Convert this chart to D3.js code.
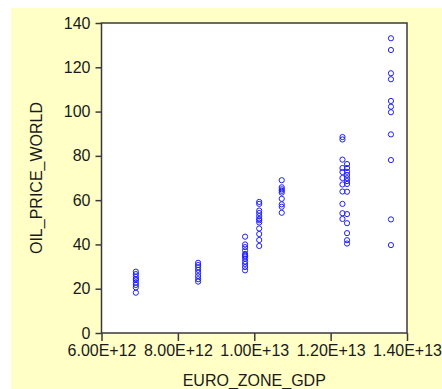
<!DOCTYPE html>
<meta charset="utf-8">
<style>
  body { margin: 0; background: #fff; }
  text { font-family: "Liberation Sans", Arial, sans-serif; }
</style>
<svg width="442" height="389"></svg>
<script src="https://d3js.org/d3.v7.min.js"></script>
<script>
// x positions of the vertical groups (EURO_ZONE_GDP)
var gdpLevels = [6.9e12, 8.53e12, 9.76e12, 1.013e13, 1.072e13, 1.231e13, 1.243e13, 1.358e13]

// oil prices read for each gdp level
var oil0 = [27.7, 26.6, 25.4, 24.4, 23.9, 22.7, 21.7, 20.6, 18.2]
var oil1 = [31.7, 30.7, 29.7, 28.5, 27.2, 25.7, 24.3, 23.2]
var oil2 = [43.5, 40.0, 38.8, 37.3, 35.7, 35.0, 34.5, 33.6, 32.3, 31.2, 29.8, 28.3]
var oil3 = [59.2, 58.3, 55.3, 54.2, 52.8, 51.5, 50.9, 49.9, 47.2, 44.7, 42.0, 39.3]
var oil4 = [69.0, 65.8, 64.9, 64.2, 63.4, 60.6, 58.1, 57.0, 54.3]
var oil5 = [88.5, 87.4, 78.3, 74.5, 72.7, 70.0, 67.1, 63.9, 58.3, 54.1, 51.5]
var oil6 = [76.3, 74.5, 72.8, 71.4, 69.9, 68.6, 67.3, 63.8, 53.7, 49.6, 45.1, 41.9, 40.4]
var oil7 = [133.1, 127.8, 117.3, 114.6, 104.8, 102.2, 99.7, 89.7, 78.1, 51.3, 39.7]
var oilByLevel = [oil0, oil1, oil2, oil3, oil4, oil5, oil6, oil7]

var xTicks = [6e12, 8e12, 1e13, 1.2e13, 1.4e13]
var xTickLabels = ['6.00E+12', '8.00E+12', '1.00E+13', '1.20E+13', '1.40E+13']
var yTicks = [0, 20, 40, 60, 80, 100, 120, 140]

var points = []
gdpLevels.forEach(function (g, i) {
  oilByLevel[i].forEach(function (v) { points.push({ gdp: g, oil: v }) })
})

var svg = d3.select('svg')
// plot box edges (note: "top" is taken by window.top)
var plotL = 101.5, plotR = 407, plotT = 23, plotB = 333

// pale yellow panel
svg.append('rect')
  .attr('x', 11).attr('y', 8).attr('width', 431).attr('height', 381)
  .attr('fill', '#ffffc6')

svg.append('rect')
  .attr('x', plotL).attr('y', plotT)
  .attr('width', plotR - plotL).attr('height', plotB - plotT)
  .attr('fill', '#fff')

var x = d3.scaleLinear().domain([6e12, 1.4e13]).range([plotL, plotR])
var y = d3.scaleLinear().domain([0, 140]).range([plotB, plotT])

var xAxis = svg.append('g')
  .attr('transform', 'translate(0,' + plotB + ')')
  .call(d3.axisBottom(x).tickValues(xTicks)
    .tickFormat(function (d, i) { return xTickLabels[i] })
    .tickSize(8).tickPadding(4))

var yAxis = svg.append('g')
  .attr('transform', 'translate(' + plotL + ',0)')
  .call(d3.axisLeft(y).tickValues(yTicks).tickSize(6).tickPadding(5))

;[xAxis, yAxis].forEach(function (a) {
  a.select('.domain').remove()
  a.selectAll('line').attr('stroke', '#3a3a3a').attr('stroke-width', 1.5)
  a.selectAll('text').attr('font-size', 16).attr('fill', '#1a1a1a')
    .attr('font-family', '"Liberation Sans", Arial, sans-serif')
})

// frame
svg.append('rect')
  .attr('x', plotL).attr('y', plotT)
  .attr('width', plotR - plotL).attr('height', plotB - plotT)
  .attr('fill', 'none').attr('stroke', '#3a3a3a').attr('stroke-width', 1.5)

svg.append('g').selectAll('circle')
  .data(points)
  .enter().append('circle')
  .attr('cx', function (d) { return x(d.gdp) })
  .attr('cy', function (d) { return y(d.oil) })
  .attr('r', 2.6)
  .attr('fill', 'none')
  .attr('stroke', '#1f1fff')
  .attr('stroke-width', 1)

svg.append('text')
  .attr('x', (plotL + plotR) / 2).attr('y', 385.5)
  .attr('text-anchor', 'middle')
  .attr('font-size', 16).attr('fill', '#1a1a1a')
  .text('EURO_ZONE_GDP')

svg.append('text')
  .attr('transform', 'translate(41.5,' + (plotT + plotB) / 2 + ') rotate(-90)')
  .attr('text-anchor', 'middle')
  .attr('font-size', 16).attr('fill', '#1a1a1a')
  .text('OIL_PRICE_WORLD')
</script>
